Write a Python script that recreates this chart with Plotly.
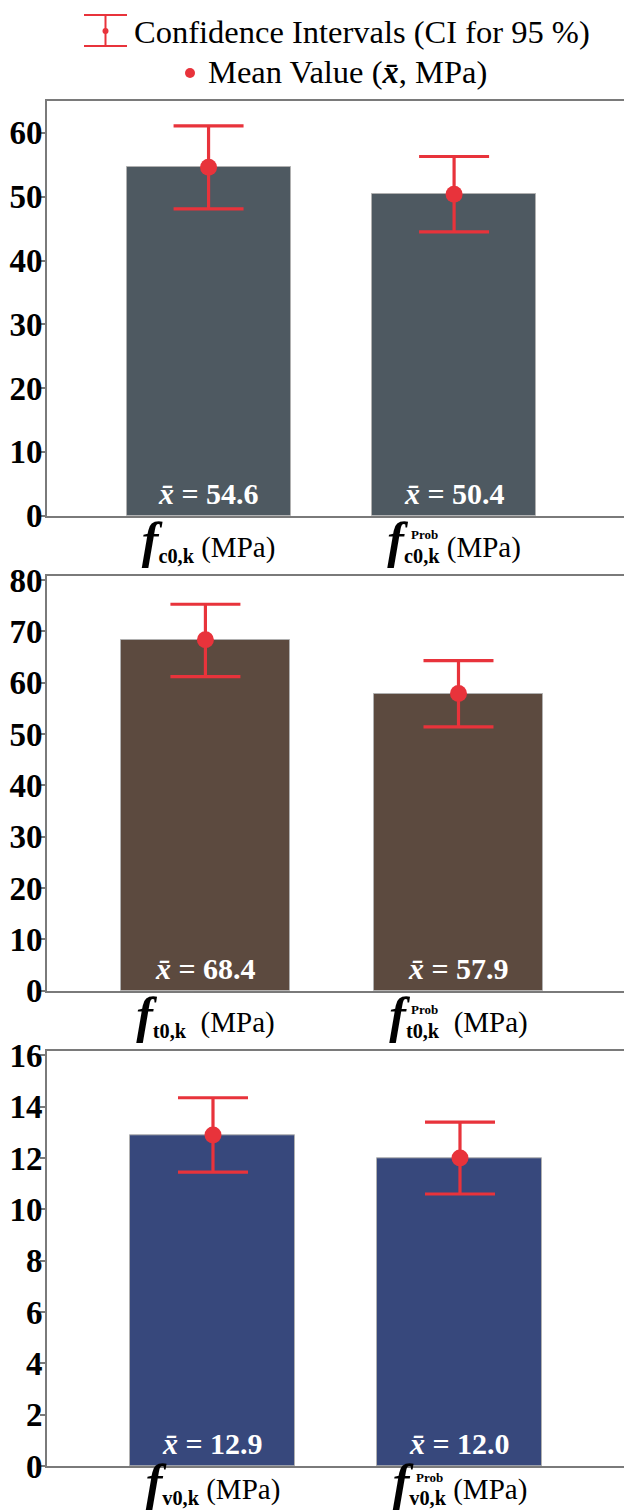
import plotly.graph_objects as go

# ---------------- data ----------------
panel_keys = ["c0,k", "t0,k", "v0,k"]
unit_gap = [" ", "&nbsp; ", " "]
x_positions = [0, 1]
means_c = [54.6, 50.4]
ci_upper_c = [61.1, 56.3]
ci_lower_c = [48.1, 44.5]
means_t = [68.4, 57.9]
ci_upper_t = [75.3, 64.3]
ci_lower_t = [61.2, 51.4]
means_v = [12.9, 12.0]
ci_upper_v = [14.35, 13.4]
ci_lower_v = [11.45, 10.6]
y_max = [65, 80.8, 16.16]
y_dtick = [10, 10, 2]
bar_colors = ["#4E5961", "#5C4A3F", "#37487C"]
legend_ci = "Confidence Intervals (CI for 95 %)"
legend_mean = "Mean Value (<b><i>x̄</i></b>, MPa)"

means = [means_c, means_t, means_v]
uppers = [ci_upper_c, ci_upper_t, ci_upper_v]
lowers = [ci_lower_c, ci_lower_t, ci_lower_v]

RED = "#E8333B"
SERIF = "Liberation Serif"
W, H = 624, 1510
ML, MR, MT, MB = 47, 0, 101, 44
PW, PH = W - ML - MR, H - MT - MB

x_ranges = [[-0.658, 1.692], [-0.626, 1.654], [-0.672, 1.664]]
label_standoff = [4, 4, -4]
prob_shift = [-9, -9, -2]
panel_h = 414.7 / PH
gap = 60.3 / PH
domains = [[1 - panel_h, 1], [1 - 2 * panel_h - gap, 1 - panel_h - gap], [0, panel_h]]


def px2x(px):
    return (px - ML) / PW


def py2y(py):
    return 1 + (MT - py) / PH


def tick_label(key, sep):
    return ("<span style='font-size:50px'><b><i>f</i></b></span>"
            "<sub><b>" + key + "</b></sub>" + sep + "(MPa)")


fig = go.Figure()
annotations = []
for i in range(3):
    xa = "x" if i == 0 else f"x{i+1}"
    ya = "y" if i == 0 else f"y{i+1}"
    fig.add_trace(go.Bar(
        x=x_positions, y=means[i], width=0.668,
        marker=dict(color=bar_colors[i], line=dict(color="#B0B0B0", width=1)),
        xaxis=xa, yaxis=ya, showlegend=False, hoverinfo="skip"))
    fig.add_trace(go.Scatter(
        x=x_positions, y=means[i], mode="markers",
        marker=dict(color=RED, size=17),
        error_y=dict(type="data", symmetric=False,
                     array=[u - m for u, m in zip(uppers[i], means[i])],
                     arrayminus=[m - l for m, l in zip(means[i], lowers[i])],
                     color=RED, thickness=3.2, width=35),
        xaxis=xa, yaxis=ya, showlegend=False, hoverinfo="skip"))
    for j, m in enumerate(means[i]):
        annotations.append(dict(
            x=x_positions[j], y=0, xref=xa, yref=ya, yanchor="bottom",
            yshift=4, showarrow=False,
            text=f"<b><i>x̄</i> = {m:.1f}</b>",
            font=dict(family=SERIF, size=30, color="white")))
    # "Prob" superscript over second label
    annotations.append(dict(
        x=x_positions[1], y=0, xref=xa, yref=ya, yanchor="top",
        xshift=-30 - (4 if i == 1 else 0), yshift=prob_shift[i], showarrow=False,
        text="<b>Prob</b>",
        font=dict(family=SERIF, size=13, color="black")))

layout_axes = {}
for i in range(3):
    sx = "xaxis" if i == 0 else f"xaxis{i+1}"
    sy = "yaxis" if i == 0 else f"yaxis{i+1}"
    ya = "y" if i == 0 else f"y{i+1}"
    xa = "x" if i == 0 else f"x{i+1}"
    layout_axes[sx] = dict(
        domain=[0, 1], anchor=ya, range=x_ranges[i], automargin=False,
        tickvals=x_positions,
        ticktext=[tick_label(panel_keys[i], unit_gap[i])] * 2,
        showline=True, linecolor="#7A7A7A", linewidth=2, mirror=True,
        ticks="", showgrid=False, zeroline=False,
        ticklabelstandoff=label_standoff[i],
        tickfont=dict(family=SERIF, size=29, color="black"))
    layout_axes[sy] = dict(
        domain=domains[i], anchor=xa, range=[0, y_max[i]], dtick=y_dtick[i],
        tick0=0, showline=True, linecolor="#7A7A7A", linewidth=2,
        automargin=False,
        ticks="outside", ticklen=5, tickwidth=1.5, tickcolor="#7A7A7A",
        showgrid=False, zeroline=False, ticklabelstandoff=-9,
        tickfont=dict(family=SERIF, size=33, color="black"),
        tickprefix="<b>", ticksuffix="</b>")

# legend drawn at top
shapes = [
    dict(type="line", xref="paper", yref="paper", x0=px2x(84), x1=px2x(127),
         y0=py2y(15), y1=py2y(15), line=dict(color=RED, width=2)),
    dict(type="line", xref="paper", yref="paper", x0=px2x(84), x1=px2x(127),
         y0=py2y(46), y1=py2y(46), line=dict(color=RED, width=2)),
    dict(type="line", xref="paper", yref="paper", x0=px2x(105.5), x1=px2x(105.5),
         y0=py2y(15), y1=py2y(46), line=dict(color=RED, width=2)),
    dict(type="circle", xref="paper", yref="paper", x0=px2x(102.5), x1=px2x(108.5),
         y0=py2y(28), y1=py2y(34), fillcolor=RED, line=dict(color=RED, width=0)),
    dict(type="circle", xref="paper", yref="paper", x0=px2x(185), x1=px2x(195),
         y0=py2y(68), y1=py2y(78), fillcolor=RED, line=dict(color=RED, width=0)),
]
annotations.append(dict(x=px2x(132), y=py2y(32), xref="paper", yref="paper",
                        xanchor="left", yanchor="middle", showarrow=False,
                        text=legend_ci,
                        font=dict(family=SERIF, size=32.5, color="black")))
annotations.append(dict(x=px2x(206), y=py2y(72), xref="paper", yref="paper",
                        xanchor="left", yanchor="middle", showarrow=False,
                        text=legend_mean,
                        font=dict(family=SERIF, size=32.5, color="black")))

fig.update_layout(
    width=W, height=H,
    margin=dict(l=ML, r=MR, t=MT, b=MB, autoexpand=False),
    paper_bgcolor="white", plot_bgcolor="white",
    bargap=0, showlegend=False,
    annotations=annotations, shapes=shapes,
    **layout_axes)

fig.write_html("out.html", config={"displayModeBar": False},
               post_script="document.body.style.margin='0';document.body.style.overflow='hidden';")
